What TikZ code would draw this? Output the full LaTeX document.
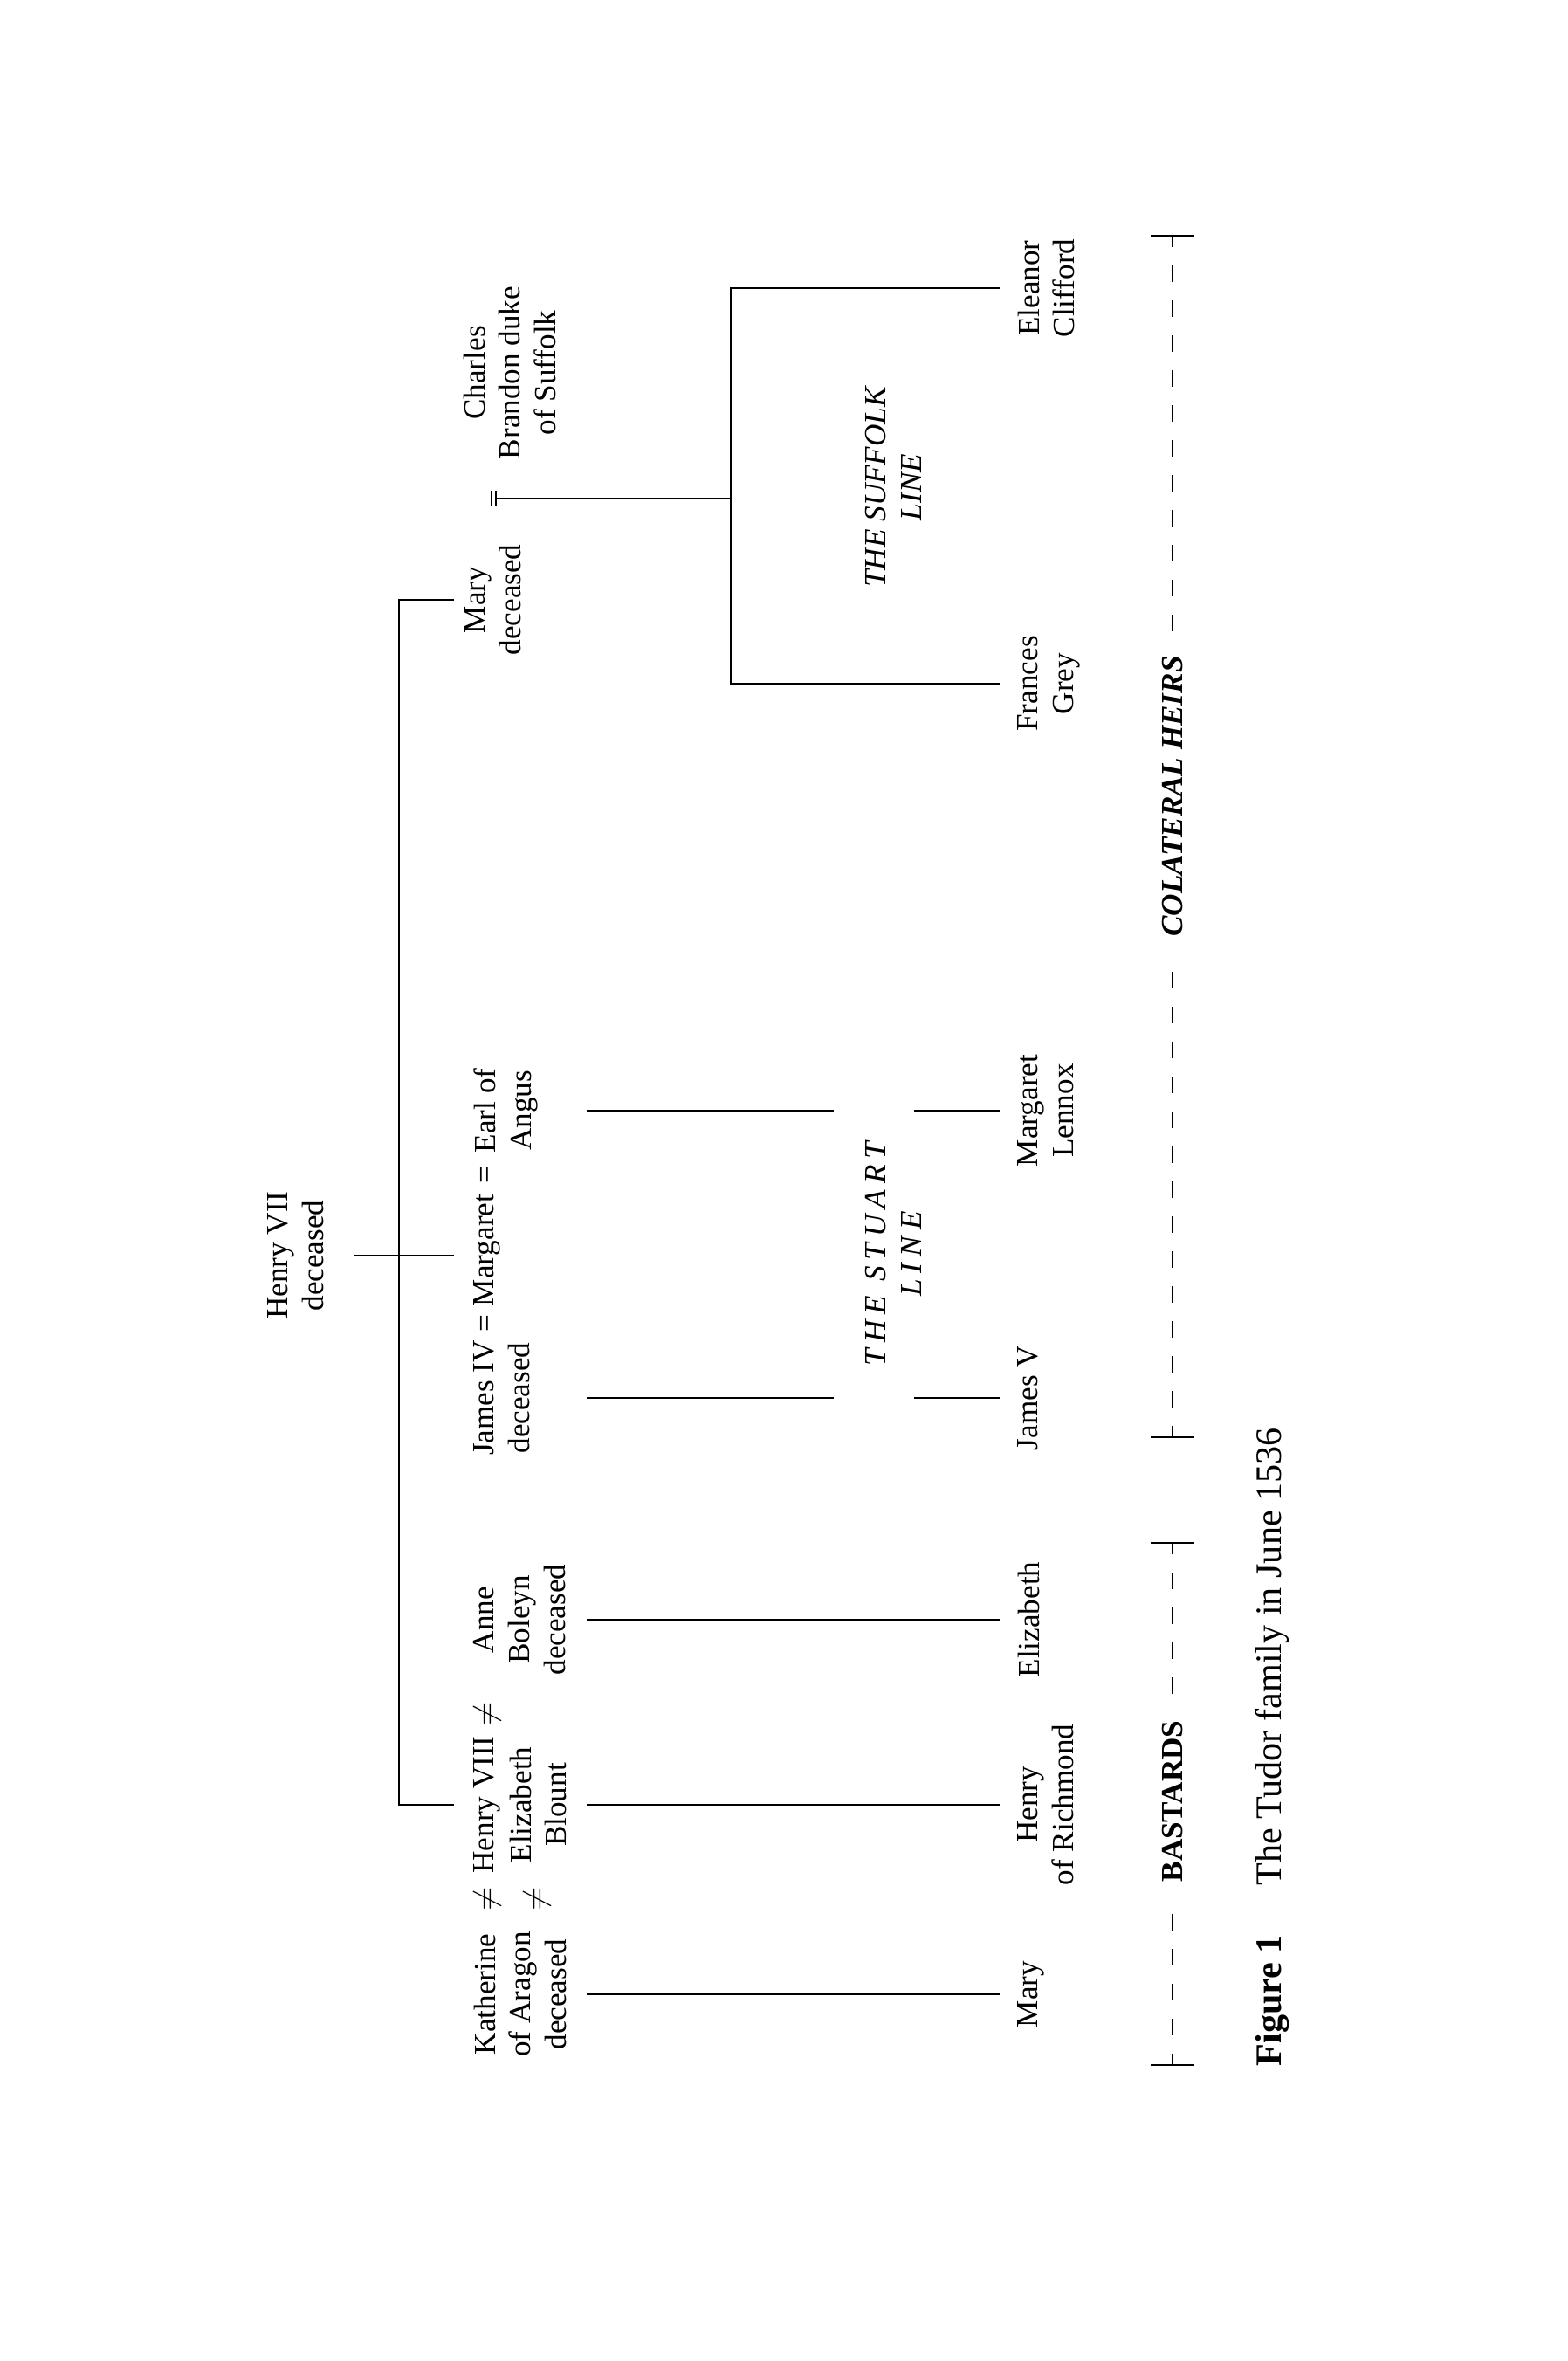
\documentclass[tikz,border=0pt]{standalone}
\usepackage{fontspec}
\setmainfont{Liberation Serif}
\newfontfamily\spacedfont[LetterSpace=20]{Liberation Serif}
\usetikzlibrary{arrows}

\begin{document}
\begin{tikzpicture}[x=1mm,y=1mm]
			\tikzstyle{every node}=[rotate=90,inner sep=0pt,align=center,font=\fontsize{10}{11.6}\selectfont]
			\tikzstyle{person}=[anchor=north]
			\tikzstyle{sign}=[anchor=center]
			\tikzstyle{heirs}=[anchor=center,inner xsep=2.5mm,font=\fontsize{10}{11.6}\selectfont\bfseries]
			\tikzstyle{linelabel}=[anchor=north,font=\fontsize{10}{11.6}\selectfont\itshape]
			\tikzstyle{descent}=[line width=0.65pt]
			\tikzstyle{dashline}=[line width=0.65pt,dash pattern=on 1.9mm off 2.1mm,dash phase=0.6mm]

			\useasboundingbox (0,0) rectangle (179.5,270.4);

			\node[person] (henry7) at (30.6,126.6) {Henry VII\\deceased};
			\node[person] (kath) at (54.2,42.0) {Katherine\\of Aragon\\deceased};
			\node[person] (henry8) at (54.2,63.7) {Henry VIII};
			\node[person] (blount) at (58.3,63.7) {Elizabeth\\Blount};
			\node[person] (anne) at (54.2,84.9) {Anne\\Boleyn\\deceased};
			\node[person] (james4) at (54.2,110.3) {James IV\\deceased};
			\node[person] (margaret) at (54.2,127.2) {Margaret};
			\node[person] (angus) at (54.2,143.2) {Earl of\\Angus};
			\node[person] (mary7) at (53.2,201.7) {Mary\\deceased};
			\node[person] (brandon) at (53.0,227.7) {Charles\\Brandon duke\\of Suffolk};

			\node[sign] (ne1) at (55.8,52.9) {$\neq$};
			\node[sign] (ne2) at (61.5,52.9) {$\neq$};
			\node[sign] (ne3) at (55.8,74.1) {$\neq$};
			\node[sign] (eq1) at (55.8,118.8) {=};
			\node[sign] (eq2) at (55.8,135.8) {=};

			\node[person] (mary) at (116.5,42.0) {Mary};
			\node[person] (richmond) at (116.5,63.7) {Henry\\of Richmond};
			\node[person] (elizabeth) at (116.5,84.9) {Elizabeth};
			\node[person] (james5) at (116.5,110.3) {James V};
			\node[person] (lennox) at (116.5,143.2) {Margaret\\Lennox};
			\node[person] (frances) at (116.5,192.1) {Frances\\Grey};
			\node[person] (eleanor) at (116.5,237.4) {Eleanor\\Clifford};

			\node[linelabel,font=\spacedfont\itshape\fontsize{10}{11.6}\selectfont] (stuart) at (99.1,126.8) {THE STUART\\LINE};
			\node[linelabel] (suffolk) at (99.1,214.6) {THE SUFFOLK\\LINE};

			\coordinate (spine) at (45.7,0);
			\coordinate (stub) at (52.0,0);
			\coordinate (h7end) at (40.6,0);
			\coordinate (up) at (67.2,0);
			\coordinate (down) at (114.5,0);
			\coordinate (stuartA) at (95.5,0);
			\coordinate (stuartB) at (104.7,0);
			\coordinate (wed) at (56.8,213.3);
			\coordinate (sfork) at (83.7,213.3);

			\draw[descent] (henry7 -| h7end) -- (henry7 -| stub);
			\draw[descent] (mary7 -| stub) -| (henry8 -| spine) -- (henry8 -| stub);
			\draw[descent] (kath -| up) -- (mary -| down);
			\draw[descent] (blount -| up) -- (richmond -| down);
			\draw[descent] (anne -| up) -- (elizabeth -| down);
			\draw[descent] (james4 -| up) -- (james4 -| stuartA);
			\draw[descent] (james5 -| stuartB) -- (james5 -| down);
			\draw[descent] (angus -| up) -- (angus -| stuartA);
			\draw[descent] (lennox -| stuartB) -- (lennox -| down);
			\draw[descent] (wed) ++(-0.5,-0.9) -- ++(0,1.8);
			\draw[descent] (wed) ++(0,-0.9) -- ++(0,1.8);
			\draw[descent] (wed) -- (sfork);
			\draw[descent] (frances -| down) -- (frances -| sfork) -- (eleanor -| sfork) -- (eleanor -| down);

			\node[heirs] (bastards) at (134.3,64.1) {BASTARDS};
			\node[heirs,font=\fontsize{10}{11.6}\selectfont\bfseries\itshape] (colateral) at (134.3,179.2) {COLATERAL HEIRS};
			\coordinate (tickL) at (134.3,33.9);
			\coordinate (tickM) at (134.3,93.7);
			\coordinate (tickN) at (134.3,105.8);
			\coordinate (tickR) at (134.3,243.4);
			\foreach \t in {tickL,tickM,tickN,tickR}
				\draw[descent] (\t) ++(-2.5,0) -- ++(5,0);
			\draw[dashline] (tickL) -- (bastards.west);
			\draw[dashline] (tickM) -- (bastards.east);
			\draw[dashline] (tickN) -- (colateral.west);
			\draw[dashline] (tickR) -- (colateral.east);

			\node[anchor=base west,font=\fontsize{12}{14}\selectfont] (caption) at (146.7,33.7) {\textbf{Figure 1}\hspace{16pt}The Tudor family in June 1536}
			;\end{tikzpicture}
\end{document}
